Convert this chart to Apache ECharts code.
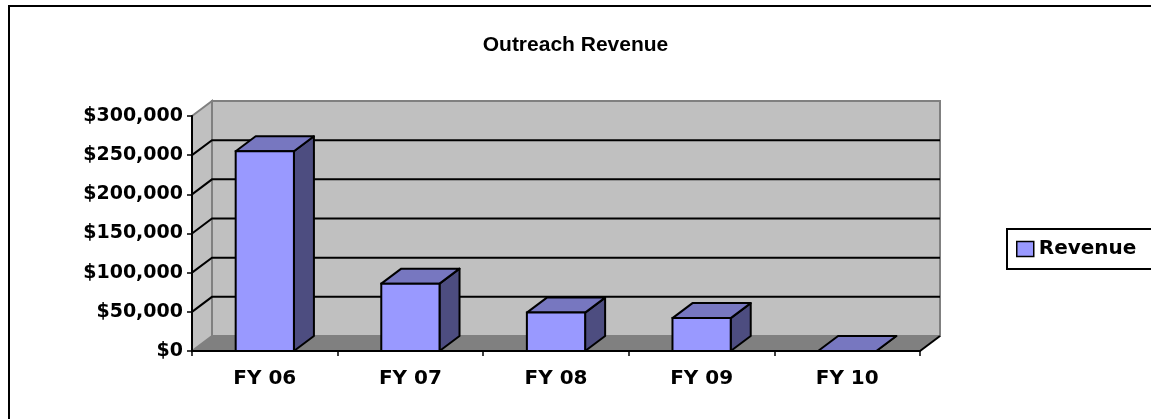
<!DOCTYPE html>
<html>
<head>
<meta charset="utf-8">
<script src="https://cdn.jsdelivr.net/npm/echarts@6/dist/echarts.min.js"></script>
<style>
  html, body { margin: 0; padding: 0; background: #fff; }
  #chart { width: 1151px; height: 419px; }
</style>
</head>
<body>
<div id="chart"></div>
<script>
const categories = ['FY 06', 'FY 07', 'FY 08', 'FY 09', 'FY 10'];
const revenue = [255000, 86000, 49000, 42000, 0];
const seriesName = 'Revenue';

// 3d depth offset of the back wall, in pixels
const DX = 20;
const DY = -15;
const TITLE_FONT = '"Liberation Sans", Arial, sans-serif';
const FONT = '"DejaVu Sans", sans-serif';

const chart = echarts.init(document.getElementById('chart'), null, { renderer: 'canvas' });

const renderWalls = (params, api) => {
    const cs = params.coordSys;
    const x0 = cs.x, x1 = cs.x + cs.width;
    const yBottom = api.coord([0, 0])[1];
    const yTop = api.coord([0, 300000])[1];
    const children = [
        // floor
        { type: 'polygon', shape: { points: [[x0, yBottom], [x0 + DX, yBottom + DY], [x1 + DX, yBottom + DY], [x1, yBottom]] },
          style: { fill: '#808080', stroke: '#808080', lineWidth: 1 } },
        // left side wall
        { type: 'polygon', shape: { points: [[x0, yTop], [x0 + DX, yTop + DY], [x0 + DX, yBottom + DY], [x0, yBottom]] },
          style: { fill: '#C0C0C0', stroke: '#808080', lineWidth: 2 } },
        // back wall
        { type: 'rect', shape: { x: x0 + DX, y: yTop + DY, width: x1 - x0, height: yBottom - yTop },
          style: { fill: '#C0C0C0', stroke: '#808080', lineWidth: 2 } }
    ];
    for (let v = 50000; v < 300000; v += 50000) {
        const y = api.coord([0, v])[1];
        children.push({ type: 'polyline', shape: { points: [[x0, y], [x0 + DX, y + DY], [x1 + DX, y + DY]] },
            style: { stroke: '#000', lineWidth: 2, fill: null } });
    }
    // floor edges
    children.push({ type: 'line', shape: { x1: x1, y1: yBottom, x2: x1 + DX, y2: yBottom + DY },
        style: { stroke: '#000', lineWidth: 2 } });
    children.push({ type: 'line', shape: { x1: x0, y1: yBottom, x2: x1, y2: yBottom },
        style: { stroke: '#000', lineWidth: 2 } });
    return { type: 'group', children };
};

const renderBar = (params, api) => {
    const i = api.value(0);
    const base = api.coord([i, 0]);
    const top = api.coord([i, api.value(1)]);
    const w = api.size([1, 0])[0] * 0.4;
    const l = base[0] - w / 2, r = base[0] + w / 2;
    const y0 = base[1], y1 = top[1];
    return {
        type: 'group',
        children: [
            { type: 'polygon', shape: { points: [[r, y1], [r + DX, y1 + DY], [r + DX, y0 + DY], [r, y0]] },
              style: { fill: '#4D4D80', stroke: '#000', lineWidth: 2, lineJoin: 'round' } },
            { type: 'polygon', shape: { points: [[l, y1], [l + DX, y1 + DY], [r + DX, y1 + DY], [r, y1]] },
              style: { fill: '#7777C0', stroke: '#000', lineWidth: 2, lineJoin: 'round' } },
            { type: 'rect', shape: { x: l, y: y1, width: w, height: y0 - y1 },
              style: { fill: '#9999FF', stroke: '#000', lineWidth: 2 } }
        ]
    };
};

chart.setOption({
    backgroundColor: '#fff',
    animation: false,
    title: {
        text: 'Outreach Revenue',
        left: 'center',
        top: 30,
        textStyle: { fontFamily: TITLE_FONT, fontWeight: 'bold', fontSize: 21, color: '#000' }
    },
    legend: {
        data: [seriesName],
        left: 1007,
        top: 229,
        padding: [10, 40, 10, 9],
        borderColor: '#000',
        borderWidth: 2,
        itemWidth: 17,
        itemHeight: 15,
        icon: 'rect',
        itemStyle: { borderColor: '#000', borderWidth: 1.5 },
        textStyle: { fontFamily: FONT, fontWeight: 'bold', fontSize: 20, color: '#000' }
    },
    graphic: [{
        type: 'rect',
        shape: { x: 9, y: 6, width: 1300, height: 600 },
        style: { fill: null, stroke: '#000', lineWidth: 2 },
        z: 10
    }],
    grid: { left: 192, right: 231, top: 116, bottom: 68, containLabel: false },
    xAxis: {
        type: 'category',
        data: categories,
        z: 2,
        axisLine: { lineStyle: { color: '#000', width: 2 } },
        axisTick: { show: true, length: 5, lineStyle: { color: '#000', width: 1.5 } },
        axisLabel: { color: '#000', fontFamily: FONT, fontWeight: 'bold', fontSize: 20, margin: 18 },
        splitLine: { show: false }
    },
    yAxis: {
        type: 'value',
        min: 0,
        max: 300000,
        interval: 50000,
        z: 2,
        axisLine: { show: true, lineStyle: { color: '#000', width: 2 } },
        axisTick: { show: true, length: 5, lineStyle: { color: '#000', width: 1.5 } },
        axisLabel: {
            color: '#000', fontFamily: FONT, fontWeight: 'bold', fontSize: 19, margin: 9,
            formatter: v => '$' + v.toLocaleString('en-US')
        },
        splitLine: { show: false }
    },
    series: [
        {
            type: 'custom',
            z: 1,
            silent: true,
            renderItem: renderWalls,
            data: [[0, 0]]
        },
        {
            name: seriesName,
            type: 'custom',
            z: 3,
            itemStyle: { color: '#9999FF' },
            renderItem: renderBar,
            encode: { x: 0, y: 1 },
            data: revenue.map((v, i) => [i, v])
        }
    ]
});
</script>
</body>
</html>
